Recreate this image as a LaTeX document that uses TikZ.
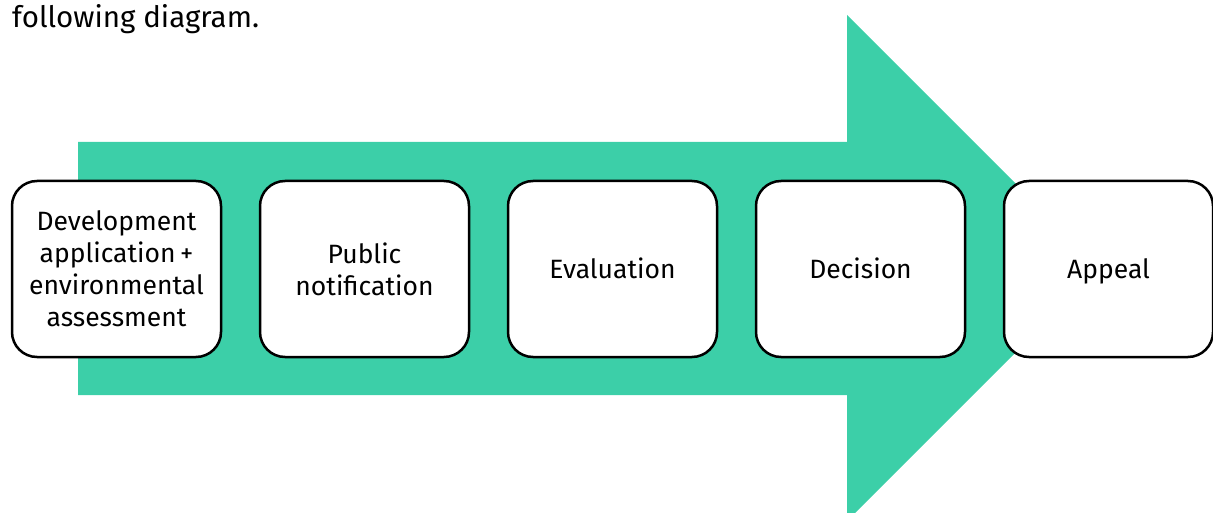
\documentclass[tikz,border=0pt]{standalone}
\usepackage{fontspec}
\setmainfont{Fira Sans}
\usetikzlibrary{positioning}
\definecolor{arrowgreen}{RGB}{60,207,168}
\tikzset{
    stage/.style={
        draw=black, fill=white, line width=2.5pt, rounded corners=25pt,
        minimum width=209pt, minimum height=176pt, inner sep=0pt,
        align=center, font=\fontsize{26.5}{32}\selectfont
    },
    oneline/.style={text height=19pt, text depth=0pt},
    caption/.style={
        anchor=base west, inner sep=0pt, font=\fontsize{29.5}{34}\selectfont
    }
}

\begin{document}
\begin{tikzpicture}[x=1pt,y=-1pt,node distance=36.5pt]
	\useasboundingbox (0,0) rectangle (1213,513);
	
	% Big arrow behind the stages
	\fill [arrowgreen] (78,142) -- (847,142) -- (847,15) -- (1100,268)
		-- (847,521) -- (847,395) -- (78,395) -- cycle;
	
	% Leftover sentence above
	\node[caption] (intro) at (12,28) {following diagram.};
	
	% Stages
	\node[stage] (devapp) at (116.5,269) {Development\\application\,+\\environmental\\assessment};
	\node[stage, right=of devapp] (notify) {Public\\notification};
	\node[stage, oneline, right=of notify] (evaluate) {Evaluation};
	\node[stage, oneline, right=of evaluate] (decide) {Decision};
	\node[stage, oneline, right=of decide] (appeal) {Appeal};
\end{tikzpicture}
\end{document}
